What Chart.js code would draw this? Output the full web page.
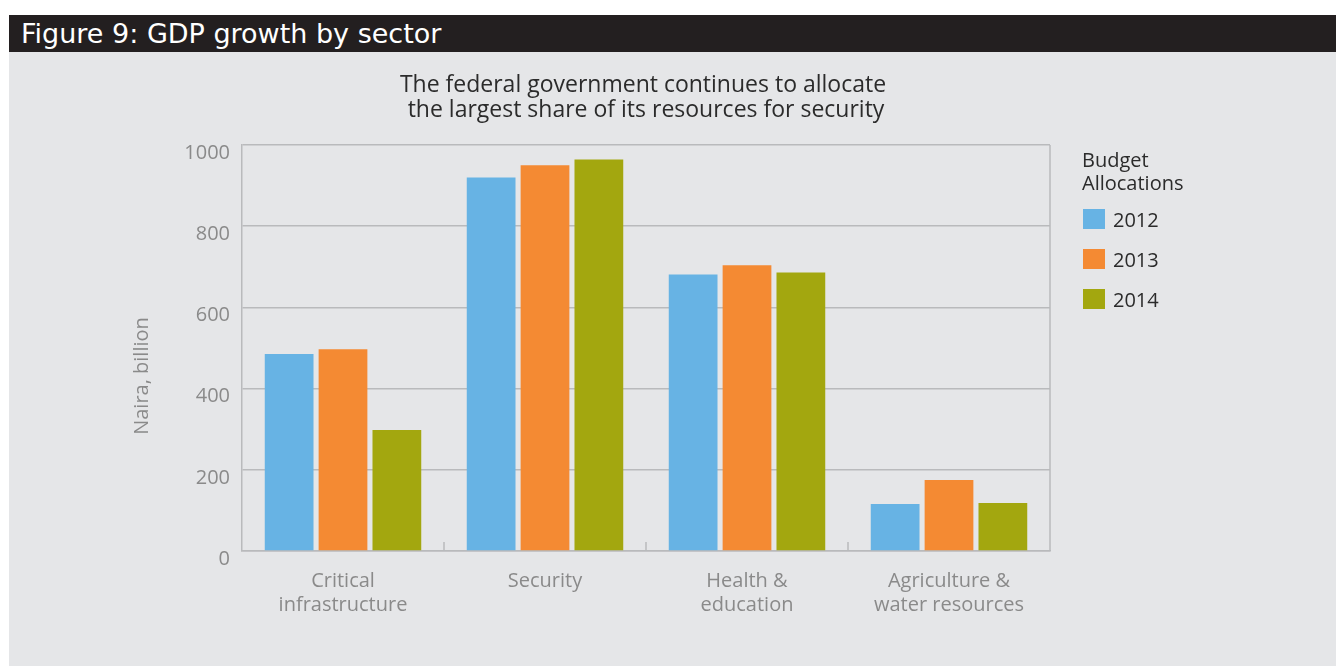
<!DOCTYPE html>
<html>
<head>
<meta charset="utf-8">
<script src="https://cdn.jsdelivr.net/npm/chart.js@4"></script>
<style>
  body { margin: 0; background: #fff; width: 1336px; height: 666px; overflow: hidden; position: relative; font-family: "Open Sans", sans-serif; }
  #header { position: absolute; left: 9px; top: 15px; width: 1327px; height: 37px; background: #231f20; color: #fff;
    font-family: "DejaVu Sans", sans-serif; font-size: 27px; line-height: 37px; padding-left: 12px; box-sizing: border-box; }
  #panel { position: absolute; left: 9px; top: 52px; width: 1327px; height: 614px; background: #e5e6e8; }
  #chart { position: absolute; left: 0; top: 0; }
  #legend { position: absolute; left: 1073px; top: 96px; color: #2b2b2b; font-size: 20px; }
  #legend .ttl { line-height: 23px; margin-bottom: 15px; }
  #legend .item { display: flex; align-items: center; height: 20px; margin-bottom: 20px; }
  #legend .sw { width: 22px; height: 20px; margin-right: 8px; margin-left: 1px; }
</style>
</head>
<body>
<div id="header">Figure 9: GDP growth by sector</div>
<div id="panel">
  <canvas id="chart" width="1327" height="614"></canvas>
  <div id="legend"></div>
</div>
<script>
// data (Naira, billion)
const categories = [["Critical", "infrastructure"], "Security", ["Health &", "education"], ["Agriculture &", "water resources"]];
const years = ["2012", "2013", "2014"];
const values2012 = [485, 920, 681, 116];
const values2013 = [497, 950, 704, 175];
const values2014 = [298, 964, 686, 118];
const colors = ["#67b3e4", "#f48a33", "#a3a70f"];
const chartTitle = ["The federal government continues to allocate", "the largest share of its resources for security"];
const yTitle = "Naira, billion";
const legendTitle = ["Budget", "Allocations"];

const gridColor = "#b9babc";
const tickColor = "#8a8a8a";

// legend built from the same arrays
const legendEl = document.getElementById('legend');
let html = '<div class="ttl">' + legendTitle.join('<br>') + '</div>';
years.forEach((y, i) => {
  html += '<div class="item"><span class="sw" style="background:' + colors[i] + '"></span>' + y + '</div>';
});
legendEl.innerHTML = html;

const extras = {
  id: 'extras',
  afterDraw: (chart) => {
    const { ctx, chartArea } = chart;
    const x = chart.scales.x;
    ctx.save();
    // right border
    ctx.strokeStyle = gridColor;
    ctx.lineWidth = 1.5;
    ctx.beginPath();
    ctx.moveTo(chartArea.right, chartArea.top);
    ctx.lineTo(chartArea.right, chartArea.bottom);
    ctx.stroke();
    // small tick marks between categories
    for (let i = 0; i < categories.length - 1; i++) {
      const px = (x.getPixelForValue(i) + x.getPixelForValue(i + 1)) / 2;
      ctx.beginPath();
      ctx.moveTo(px, chartArea.bottom);
      ctx.lineTo(px, chartArea.bottom - 9);
      ctx.stroke();
    }
    // chart title
    ctx.fillStyle = '#2b2b2b';
    ctx.font = '23px "Open Sans"';
    ctx.textAlign = 'center';
    ctx.textBaseline = 'middle';
    const cx = (chartArea.left + chartArea.right) / 2;
    ctx.fillText(chartTitle[0], cx - 3, 33);
    ctx.fillText(chartTitle[1], cx, 58);
    // y axis title
    ctx.fillStyle = tickColor;
    ctx.font = '20px "Open Sans"';
    ctx.translate(133, 324);
    ctx.rotate(-Math.PI / 2);
    ctx.fillText(yTitle, 0, 0);
    ctx.restore();
  }
};

new Chart(document.getElementById('chart'), {
  type: 'bar',
  data: {
    labels: categories,
    datasets: [
      { label: years[0], data: values2012, backgroundColor: colors[0] },
      { label: years[1], data: values2013, backgroundColor: colors[1] },
      { label: years[2], data: values2014, backgroundColor: colors[2] }
    ]
  },
  options: {
    responsive: false,
    animation: false,
    devicePixelRatio: 1,
    categoryPercentage: 0.80,
    barPercentage: 0.905,
    layout: { padding: { left: 118, right: 286, top: 93, bottom: 45 } },
    plugins: {
      legend: { display: false },
      title: { display: false },
      tooltip: { enabled: false }
    },
    scales: {
      x: {
        grid: { display: false },
        border: { display: true, color: gridColor, width: 1.5 },
        ticks: { color: tickColor, font: { family: 'Open Sans', size: 20, lineHeight: 1.2 }, padding: 10, maxRotation: 0 },
        afterFit: (axis) => { axis.height = 70; }
      },
      y: {
        min: 0,
        max: 1000,
        ticks: { stepSize: 200, color: tickColor, font: { family: 'Open Sans', size: 20 }, padding: 12, labelOffset: 8,
          callback: (v) => String(v) },
        grid: { color: gridColor, lineWidth: 1.5, drawTicks: false },
        border: { display: true, color: gridColor, width: 1.5 },
        afterFit: (axis) => { axis.width = 115; }
      }
    }
  },
  plugins: [extras]
});
</script>
</body>
</html>
